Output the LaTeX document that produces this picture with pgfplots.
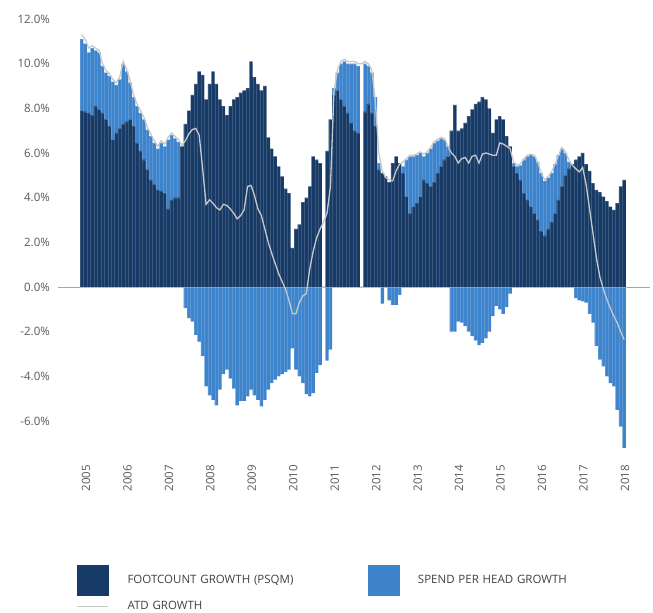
\documentclass[border=0pt]{standalone}
\usepackage{pgfplots}
\pgfplotsset{compat=1.18}
\usepackage{pgfplotstable}
\usepackage{fontspec}
\setmainfont{Open Sans}

\definecolor{footcount}{HTML}{183A66}
\definecolor{spend}{HTML}{3E84CC}
\definecolor{atd}{HTML}{C6C8CC}
\definecolor{ticktext}{HTML}{595959}
\definecolor{legendtext}{HTML}{404040}

% Monthly growth rates, Jan 2005 onwards (i = month index)
% F = footcount growth (psqm), S = spend per head growth, A = ATD growth
\pgfplotstableread{
i F S A
0 7.9 3.2 11.3
1 7.85 3.05 11.1
2 7.8 2.7 10.7
3 7.7 3.0 10.8
4 8.1 2.5 10.7
5 7.95 2.55 10.6
6 7.8 2.1 10.0
7 7.5 2.1 9.7
8 7.2 2.25 9.55
9 6.6 2.6 9.3
10 6.9 2.15 9.15
11 7.1 2.2 9.4
12 7.3 2.7 10.1
13 7.4 2.25 9.75
14 7.5 1.65 9.25
15 7.2 1.3 8.6
16 6.45 1.65 8.2
17 6.1 1.7 7.9
18 5.7 1.8 7.6
19 5.25 1.8 7.15
20 4.8 1.95 6.85
21 4.6 1.85 6.55
22 4.35 1.85 6.3
23 4.3 2.15 6.55
24 4.2 2.1 6.4
25 3.5 3.1 6.7
26 3.9 2.9 6.9
27 4.0 2.65 6.75
28 4.0 2.5 6.6
29 6.3 0.0 6.35
30 7.3 -0.95 6.55
31 7.9 -1.4 6.85
32 8.6 -1.55 7.05
33 9.1 -2.15 7.1
34 9.65 -2.45 6.8
35 9.5 -3.1 5.3
36 8.4 -4.45 3.7
37 9.1 -4.85 3.9
38 9.65 -5.05 3.75
39 9.1 -5.3 3.55
40 8.4 -4.6 3.45
41 8.1 -3.9 3.7
42 7.7 -3.7 3.65
43 8.1 -4.1 3.5
44 8.4 -4.55 3.3
45 8.5 -5.3 3.05
46 8.7 -5.1 3.2
47 8.8 -5.1 3.45
48 8.9 -4.9 4.5
49 10.1 -4.6 4.55
50 9.4 -4.85 4.1
51 9.1 -5.05 3.5
52 8.8 -5.35 3.2
53 9.0 -5.05 2.6
54 6.7 -4.6 2.0
55 6.2 -4.3 1.5
56 5.85 -4.15 1.05
57 5.4 -4.0 0.6
58 4.95 -3.9 0.25
59 4.4 -3.8 -0.1
60 4.2 -3.7 -0.6
61 1.75 -2.75 -1.2
62 2.6 -3.7 -1.2
63 2.8 -4.0 -0.7
64 3.8 -4.3 -0.4
65 4.0 -4.8 -0.3
66 4.5 -4.9 0.8
67 5.85 -4.75 1.6
68 5.7 -3.85 2.2
69 5.55 -3.5 2.6
70 0 0 2.9
71 6.1 -3.3 3.3
72 7.5 -2.8 4.5
73 8.6 0.3 8.7
74 8.8 0.8 9.7
75 8.4 1.6 10.1
76 8.1 2.0 10.2
77 7.8 2.2 10.1
78 7.35 2.65 10.1
79 7.0 3.0 10.1
80 6.9 3.0 10.0
81 0 0 10.0
82 7.85 2.15 10.1
83 8.2 1.7 10.0
84 7.8 1.8 9.7
85 7.2 1.3 8.3
86 5.25 0.3 6.0
87 5.1 -0.75 5.2
88 4.95 0.0 4.9
89 4.7 -0.6 4.8
90 5.55 -0.8 4.75
91 5.85 -0.8 5.2
92 5.55 -0.35 5.5
93 5.1 0.3 5.6
94 4.05 1.65 5.75
95 3.3 2.55 5.9
96 3.6 2.25 5.9
97 3.75 2.15 5.95
98 4.05 1.95 6.05
99 4.8 1.05 5.95
100 4.65 1.35 6.05
101 4.5 1.7 6.25
102 4.7 1.75 6.5
103 5.1 1.45 6.6
104 5.4 1.25 6.7
105 5.7 0.9 6.65
106 5.85 0.45 6.3
107 7.0 -2.0 6.0
108 8.15 -2.0 5.85
109 7.0 -1.55 5.55
110 7.1 -1.6 5.75
111 7.35 -1.75 5.8
112 7.65 -2.0 5.55
113 7.95 -2.2 5.85
114 8.2 -2.4 5.9
115 8.3 -2.6 5.55
116 8.5 -2.5 5.95
117 8.4 -2.3 6.0
118 8.0 -2.0 5.95
119 6.9 -1.3 5.9
120 7.5 -0.85 5.9
121 7.65 -1.0 6.45
122 7.5 -1.2 6.4
123 6.75 -0.9 6.3
124 6.3 -0.3 6.2
125 5.4 0.15 5.6
126 5.1 0.3 5.45
127 4.8 0.65 5.5
128 4.2 1.5 5.75
129 3.9 1.95 5.9
130 3.6 2.3 5.95
131 3.3 2.55 5.9
132 3.0 2.6 5.6
133 2.5 2.6 5.1
134 2.3 2.45 4.8
135 2.6 2.3 4.95
136 2.9 2.2 5.15
137 3.3 2.2 5.5
138 3.9 2.0 5.9
139 4.5 1.7 6.25
140 5.0 1.0 6.05
141 5.3 0.3 5.7
142 5.5 0.0 5.45
143 5.7 -0.5 5.3
144 5.85 -0.6 5.15
145 6.0 -0.65 5.35
146 5.5 -0.7 4.6
147 5.2 -1.2 3.5
148 4.65 -1.6 2.4
149 4.35 -2.65 1.3
150 4.25 -3.25 0.45
151 4.05 -3.55 -0.1
152 3.85 -4.0 -0.55
153 3.6 -4.3 -0.95
154 3.45 -4.45 -1.3
155 3.75 -5.5 -1.6
156 4.5 -6.25 -2.0
157 4.8 -7.2 -2.35
}\growth

\begin{document}
\begin{tikzpicture}
\useasboundingbox (0,0) rectangle (653bp,613bp);
\begin{axis}[
  at={(58bp,156.3bp)}, anchor=south west,
  scale only axis, width=592bp, height=437.7bp,
  xmin=-6.87, xmax=164.5, ymin=-7.6, ymax=12,
  axis line style={draw=none},
  major tick length=0pt,
  ytick={-6,-4,-2,0,2,4,6,8,10,12},
  yticklabels={-6.0\%,-4.0\%,-2.0\%,0.0\%,2.0\%,4.0\%,6.0\%,8.0\%,10.0\%,12.0\%},
  xtick={1.24,13.24,25.24,37.24,49.24,61.24,73.24,85.24,97.24,109.24,121.24,133.24,145.24,157.24},
  xticklabels={2005,2006,2007,2008,2009,2010,2011,2012,2013,2014,2015,2016,2017,2018},
  ticklabel style={font=\fontsize{11.5bp}{13bp}\selectfont, text=ticktext},
  yticklabel style={anchor=east, inner xsep=8bp, inner ysep=0pt},
  xticklabel style={rotate=90, anchor=east, inner xsep=8bp, inner ysep=0pt},
  extra y ticks={0}, extra y tick labels={},
  extra y tick style={grid=major, major grid style={draw=gray!70, line width=0.8bp}},
  legend columns=2,
  legend cell align=left,
  legend style={
    at={(0.0316,-0.2474)}, anchor=north west,
    draw=none, fill=none, inner sep=0pt, outer sep=0pt,
    row sep=6bp, column sep=0pt,
    nodes={inner sep=0pt, text width=240bp,
           font=\fontsize{11.5bp}{13bp}\selectfont, text=legendtext},
  },
]
% spend per head: stacked on footcount when positive, hanging from zero when negative
\addplot[ybar, bar width=1, bar shift=0pt, fill=spend, draw=white, draw opacity=0.15,
         line width=0.2bp, forget plot]
  table[x=i, y expr={\thisrow{S}>0 ? \thisrow{F}+\thisrow{S} : \thisrow{S}}] {\growth};
% footcount growth
\addplot[ybar, bar width=1, bar shift=0pt, fill=footcount, draw=white, draw opacity=0.15,
         line width=0.2bp, forget plot]
  table[x=i, y=F] {\growth};
% ATD growth
\addplot[atd, line width=1.3pt, forget plot] table[x=i, y=A] {\growth};

\addlegendimage{legend image code/.code={\fill[footcount] (0bp,-15bp) rectangle (31bp,15bp); \path (50bp,0bp);}}
\addlegendentry{FOOTCOUNT GROWTH (PSQM)}
\addlegendimage{legend image code/.code={\fill[spend] (0bp,-15bp) rectangle (31bp,15bp); \path (50bp,0bp);}}
\addlegendentry{SPEND PER HEAD GROWTH}
\addlegendimage{legend image code/.code={\draw[atd, line width=1.3pt] (0bp,0bp) -- (31bp,0bp); \path (50bp,0bp);}}
\addlegendentry{ATD GROWTH}
\end{axis}
\end{tikzpicture}
\end{document}
